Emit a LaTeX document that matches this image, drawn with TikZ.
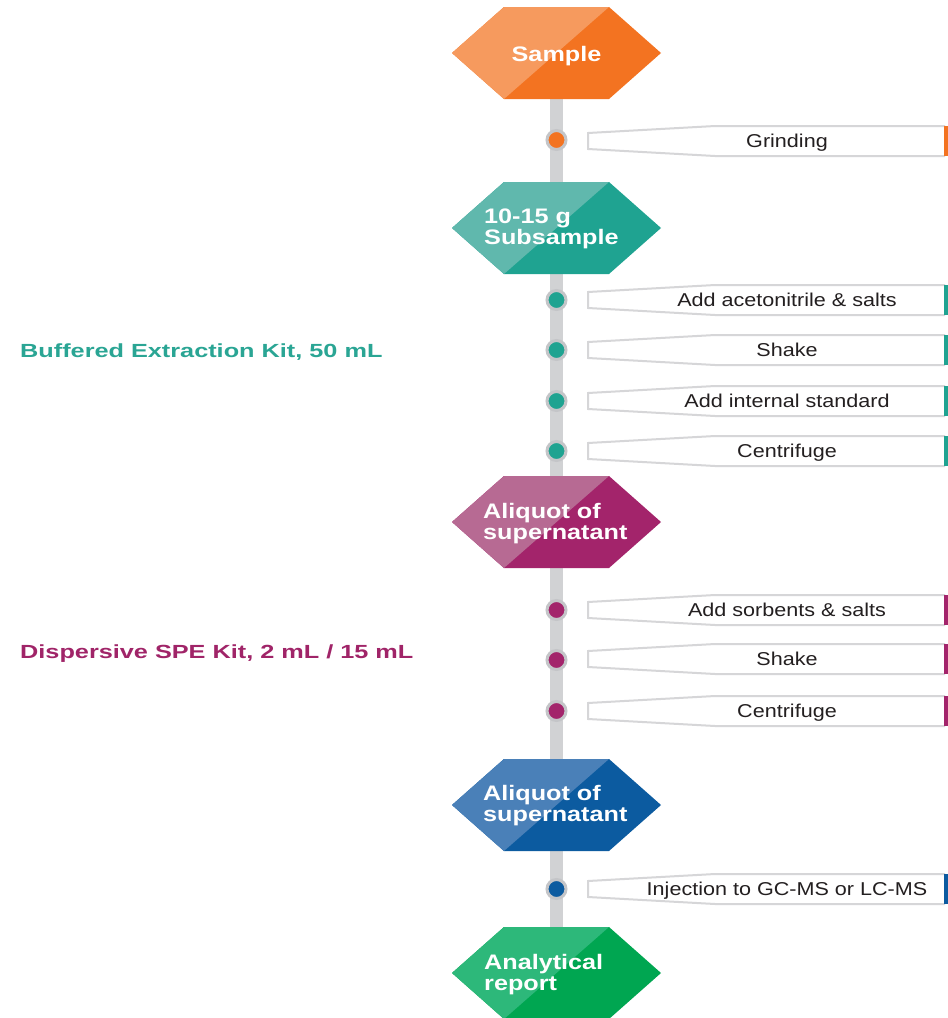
\documentclass[tikz,border=0pt]{standalone}
\usepackage{fontspec}
\setmainfont{Liberation Sans}
\newfontfamily\hexfnt[FakeStretch=1.2]{Liberation Sans}
\newfontfamily\stepfnt[FakeStretch=1.16]{Liberation Sans}
\newfontfamily\sidefnt[FakeStretch=1.33]{Liberation Sans}
\definecolor{oMain}{HTML}{F37321}
\definecolor{oLight}{HTML}{F69A5E}
\definecolor{tMain}{HTML}{1FA391}
\definecolor{tLight}{HTML}{60B8AD}
\definecolor{pMain}{HTML}{A3246B}
\definecolor{pLight}{HTML}{B76A93}
\definecolor{bMain}{HTML}{0C5BA0}
\definecolor{bLight}{HTML}{4A80B8}
\definecolor{gMain}{HTML}{00A651}
\definecolor{gLight}{HTML}{2DB87A}
\definecolor{barGray}{HTML}{D1D2D4}
\definecolor{ringGray}{HTML}{C4C5C8}
\definecolor{boxGray}{HTML}{D6D6D8}
\definecolor{stepInk}{HTML}{231F20}
\definecolor{sideTeal}{HTML}{2AA594}
\definecolor{sidePurple}{HTML}{A02468}
\tikzset{
  hextext/.style={text=white,font=\hexfnt\bfseries\fontsize{21}{20.5}\selectfont,inner sep=0pt},
  steptext/.style={text=stepInk,font=\stepfnt\fontsize{18.6}{20}\selectfont,inner sep=0pt,anchor=base},
  sidelabel/.style={font=\sidefnt\bfseries\fontsize{19}{20}\selectfont,inner sep=0pt,anchor=base west},
  dotnode/.style={circle,draw=ringGray,line width=3pt,minimum size=19pt,inner sep=0pt},
  bar/.style={line width=13pt,draw=barGray},
  boxline/.style={draw=boxGray,line width=2pt,fill=white,line join=miter},
}
% hexagon: center x, center y, main colour, light colour
\newcommand\drawhex[4]{%
  \begin{scope}[shift={(#1,#2)}]
    \fill[#3] (-104.5,0) -- (-52.5,-46) -- (52.5,-46) -- (104.5,0) -- (52.5,46) -- (-52.5,46) -- cycle;
    \fill[#4] (-104.5,0) -- (-52.5,-46) -- (52.5,-46) -- (-52.5,46) -- cycle;
  \end{scope}}
% step box: centre y, colour
\newcommand\drawstepbox[2]{%
  \begin{scope}[shift={(0,#1)}]
    \path[boxline] (945,-15) -- (715,-15) -- (588,-8) -- (588,8) -- (715,15) -- (945,15);
    \fill[#2] (944,-15) rectangle (948,15);
  \end{scope}}
\begin{document}
\begin{tikzpicture}[x=1pt,y=-1pt]
\useasboundingbox[fill=white] (0,0) rectangle (948,1018);
% hexagon centres
\coordinate (h1) at (556.5,53);
\coordinate (h2) at (556.5,228);
\coordinate (h3) at (556.5,522);
\coordinate (h4) at (556.5,805);
\coordinate (h5) at (556.5,973);
% spine
\draw[bar] (h1) -- (h2);
\draw[bar] (h2) -- (h3);
\draw[bar] (h3) -- (h4);
\draw[bar] (h4) -- (h5);
% hexagons
\drawhex{556.5}{53}{oMain}{oLight}
\drawhex{556.5}{228}{tMain}{tLight}
\drawhex{556.5}{522}{pMain}{pLight}
\drawhex{556.5}{805}{bMain}{bLight}
\drawhex{556.5}{973}{gMain}{gLight}
\node[hextext,anchor=base] (sample) at (556.5,61) {Sample};
\node[hextext,anchor=base west] (sub1) at (484,223) {10-15 g};
\node[hextext,anchor=base west] (sub2) at (484,244) {Subsample};
\node[hextext,anchor=base west] (alq1) at (483,518) {Aliquot of};
\node[hextext,anchor=base west] (alq1b) at (483,539) {supernatant};
\node[hextext,anchor=base west] (alq2) at (483,800) {Aliquot of};
\node[hextext,anchor=base west] (alq2b) at (483,821) {supernatant};
\node[hextext,anchor=base west] (rep1) at (484,969) {Analytical};
\node[hextext,anchor=base west] (rep2) at (484,990) {report};
% dots on the spine
\node[dotnode,fill=oMain] (d1) at (556.5,140) {};
\node[dotnode,fill=tMain] (d2) at (556.5,300) {};
\node[dotnode,fill=tMain] (d3) at (556.5,350) {};
\node[dotnode,fill=tMain] (d4) at (556.5,401) {};
\node[dotnode,fill=tMain] (d5) at (556.5,451) {};
\node[dotnode,fill=pMain] (d6) at (556.5,610) {};
\node[dotnode,fill=pMain] (d7) at (556.5,660) {};
\node[dotnode,fill=pMain] (d8) at (556.5,711) {};
\node[dotnode,fill=bMain] (d9) at (556.5,889) {};
% step boxes
\drawstepbox{141}{oMain}
\drawstepbox{300}{tMain}
\drawstepbox{350}{tMain}
\drawstepbox{401}{tMain}
\drawstepbox{451}{tMain}
\drawstepbox{610}{pMain}
\drawstepbox{659}{pMain}
\drawstepbox{711}{pMain}
\drawstepbox{889}{bMain}
\node[steptext] (s1) at (787,147.5) {Grinding};
\node[steptext] (s2) at (787,306.5) {Add acetonitrile \& salts};
\node[steptext] (s3) at (787,356.5) {Shake};
\node[steptext] (s4) at (787,407.5) {Add internal standard};
\node[steptext] (s5) at (787,457.5) {Centrifuge};
\node[steptext] (s6) at (787,616.5) {Add sorbents \& salts};
\node[steptext] (s7) at (787,665.5) {Shake};
\node[steptext] (s8) at (787,717.5) {Centrifuge};
\node[steptext] (s9) at (787,895.5) {Injection to GC-MS or LC-MS};
% kit labels
\node[sidelabel,text=sideTeal] (kit1) at (20,357) {Buffered Extraction Kit, 50 mL};
\node[sidelabel,text=sidePurple] (kit2) at (20,658) {Dispersive SPE Kit, 2 mL / 15 mL};
\end{tikzpicture}
\end{document}
